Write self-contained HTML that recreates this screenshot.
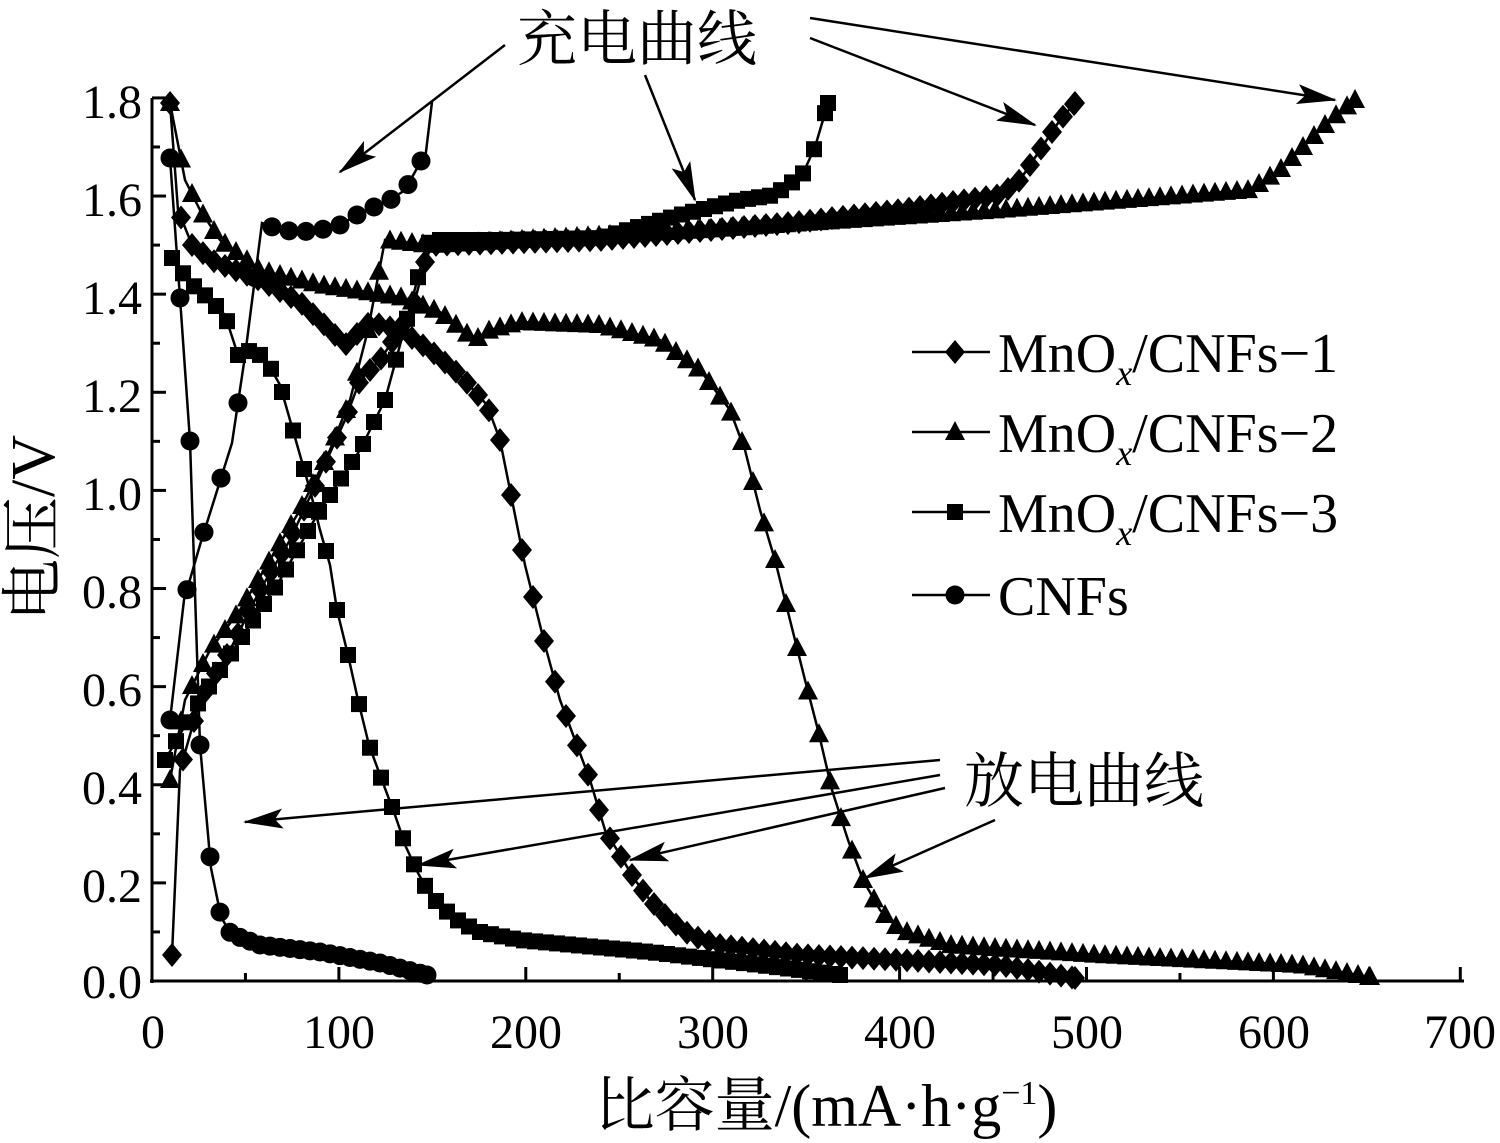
<!DOCTYPE html>
<html><head><meta charset="utf-8"><style>
html,body{margin:0;padding:0;background:#fff;}
svg{display:block}
text{font-family:"Liberation Serif","Noto Serif CJK SC",serif;fill:#000}
</style></head><body>
<svg id="s" width="1500" height="1143" viewBox="0 0 1500 1143" xmlns="http://www.w3.org/2000/svg">
<defs>
<marker id="ah" markerWidth="40" markerHeight="20" refX="38" refY="10" orient="auto" markerUnits="userSpaceOnUse">
<path d="M0,0 L40,10 L0,20 L8,10 Z" fill="#000"/>
</marker>
</defs>
<g id="axes" stroke="#000" stroke-width="3" fill="none">
<line x1="152" y1="98" x2="152" y2="983"/>
<line x1="150" y1="981" x2="1464" y2="981"/>
</g>
<g id="ticks" stroke="#000" stroke-width="3"></g>
<g id="curves"></g>
<g font-size="48" text-anchor="end">
<text x="142" y="118">1.8</text><text x="142" y="216">1.6</text><text x="142" y="314">1.4</text>
<text x="142" y="412">1.2</text><text x="142" y="510">1.0</text><text x="142" y="608">0.8</text>
<text x="142" y="706">0.6</text><text x="142" y="804">0.4</text><text x="142" y="902">0.2</text>
<text x="142" y="998">0.0</text>
</g>
<g font-size="48" text-anchor="middle">
<text x="153" y="1048">0</text><text x="339" y="1048">100</text><text x="526" y="1048">200</text>
<text x="713" y="1048">300</text><text x="900" y="1048">400</text><text x="1087" y="1048">500</text>
<text x="1274" y="1048">600</text><text x="1460" y="1048">700</text>
</g>
<text x="826" y="1126" font-size="60" text-anchor="middle">比容量/(mA·h·g<tspan font-size="34" dy="-22">−1</tspan><tspan dy="22">)</tspan></text>
<text transform="translate(54,528) rotate(-90)" font-size="62" text-anchor="middle">电压/V</text>
<text x="517" y="60" font-size="60">充电曲线</text>
<text x="964" y="802" font-size="60">放电曲线</text>
<g stroke="#000" stroke-width="2.5" fill="none">
<line x1="505" y1="45" x2="340" y2="172" marker-end="url(#ah)"/>
<polyline points="432,102 425,160"/>
<line x1="645" y1="75" x2="695" y2="200" marker-end="url(#ah)"/>
<line x1="810" y1="38" x2="1035" y2="125" marker-end="url(#ah)"/>
<line x1="810" y1="18" x2="1335" y2="100" marker-end="url(#ah)"/>
<line x1="940" y1="760" x2="245" y2="822" marker-end="url(#ah)"/>
<line x1="940" y1="775" x2="418" y2="865" marker-end="url(#ah)"/>
<line x1="945" y1="788" x2="630" y2="860" marker-end="url(#ah)"/>
<line x1="995" y1="820" x2="865" y2="878" marker-end="url(#ah)"/>
</g>
<g id="legend"></g>
<g font-size="56">
<text x="998" y="372">MnO<tspan font-size="36" dy="13" font-style="italic">x</tspan><tspan dy="-13">/CNFs−1</tspan></text>
<text x="998" y="452">MnO<tspan font-size="36" dy="13" font-style="italic">x</tspan><tspan dy="-13">/CNFs−2</tspan></text>
<text x="998" y="532">MnO<tspan font-size="36" dy="13" font-style="italic">x</tspan><tspan dy="-13">/CNFs−3</tspan></text>
<text x="998" y="615">CNFs</text>
</g>
</svg>
<script>
var NS="http://www.w3.org/2000/svg";
function el(t,a,p){var e=document.createElementNS(NS,t);for(var k in a)e.setAttribute(k,a[k]);p.appendChild(e);return e;}
var tk=document.getElementById('ticks');
for(var c=0;c<=700;c+=50){var x=152+c*1.869;var L=(c%100==0)?14:8;el('line',{x1:x,y1:981,x2:x,y2:981-L},tk);}
for(var v=0;v<=18;v++){var y=981-v*49.06;var L=(v%2==0)?14:8;el('line',{x1:152,y1:y,x2:152+L,y2:y},tk);}
function marker(type,x,y,g){
 if(type=='d')el('path',{d:'M'+x+','+(y-12)+' L'+(x+10)+','+y+' L'+x+','+(y+12)+' L'+(x-10)+','+y+'Z',fill:'#000'},g);
 else if(type=='t')el('path',{d:'M'+x+','+(y-11)+' L'+(x+10)+','+(y+8)+' L'+(x-10)+','+(y+8)+'Z',fill:'#000'},g);
 else if(type=='s')el('rect',{x:x-8,y:y-8,width:16,height:16,fill:'#000'},g);
 else el('circle',{cx:x,cy:y,r:9.5,fill:'#000'},g);
}
function curve(type,pts,sp){
 var g=document.getElementById('curves');
 el('polyline',{points:pts.map(function(p){return p.join(',')}).join(' '),fill:'none',stroke:'#000','stroke-width':2.5},g);
 var acc=0;marker(type,pts[0][0],pts[0][1],g);
 for(var i=1;i<pts.length;i++){var x0=pts[i-1][0],y0=pts[i-1][1],x1=pts[i][0],y1=pts[i][1];
  var d=Math.abs(x1-x0),t=0;
  if(d<0.001)continue;
  while(acc+d-t>=sp){var need=sp-acc;t+=need;acc=0;var f=t/d;marker(type,x0+(x1-x0)*f,y0+(y1-y0)*f,g);}
  acc+=d-t;}
 var l=pts[pts.length-1];marker(type,l[0],l[1],g);
}
curve('c',[[170,158],[181,312],[190,441],[200,745],[211,868],[221,917],[231,934],[260,945],[320,952],[380,963],[427,975]],10);
curve('c',[[170,720],[184,600],[200,545],[232,443],[245,356],[262,223],[280,230],[300,232],[320,230],[340,225],[357,215],[374,207],[390,200],[405,190],[421,161]],17);
curve('s',[[172,258],[190,283],[207,297],[225,315],[238,355],[252,350],[265,358],[280,385],[300,455],[310,490],[320,530],[330,565],[337,610],[348,655],[358,700],[369,745],[380,775],[395,815],[406,847],[418,873],[430,895],[445,910],[460,922],[480,932],[520,940],[650,952],[760,965],[840,975]],11);
curve('s',[[165,760],[200,700],[240,640],[280,580],[320,510],[360,450],[385,400],[400,345],[412,300],[422,262],[430,240],[500,240],[600,238],[680,215],[740,200],[775,195],[790,183],[800,180],[815,147],[828,103]],11);
curve('d',[[170,103],[178,210],[192,245],[215,262],[260,280],[300,302],[330,330],[345,345],[370,322],[400,330],[430,350],[460,375],[487,405],[500,440],[510,490],[525,565],[545,645],[560,700],[575,740],[590,780],[605,830],[620,855],[635,880],[650,900],[670,920],[690,935],[720,945],[800,955],[1000,965],[1075,978]],11);
curve('d',[[172,955],[180,770],[200,700],[230,650],[260,590],[290,540],[320,475],[345,420],[360,380],[380,360],[400,330],[415,300],[425,262],[432,245],[600,240],[800,222],[900,210],[1000,195],[1020,180],[1040,150],[1060,120],[1075,103]],11);
curve('t',[[170,103],[185,180],[200,210],[220,240],[260,270],[320,285],[400,297],[440,312],[475,340],[490,330],[520,322],[600,325],[660,340],[700,370],[730,410],[745,450],[760,510],[775,560],[790,620],[805,680],[818,730],[832,790],[848,840],[863,880],[880,910],[900,930],[950,945],[1100,955],[1300,965],[1370,977]],11);
curve('t',[[170,780],[185,700],[210,650],[240,610],[270,560],[300,510],[330,450],[350,400],[368,330],[385,240],[430,245],[700,230],[1000,210],[1250,190],[1280,170],[1300,150],[1330,120],[1355,100]],11);
var lg=document.getElementById('legend');var ys=[352,432,512,595],ty=['d','t','s','c'];
for(var i=0;i<4;i++){el('line',{x1:912,y1:ys[i],x2:990,y2:ys[i],stroke:'#000','stroke-width':2.5},lg);marker(ty[i],955,ys[i],lg);}
</script>
</body></html>
